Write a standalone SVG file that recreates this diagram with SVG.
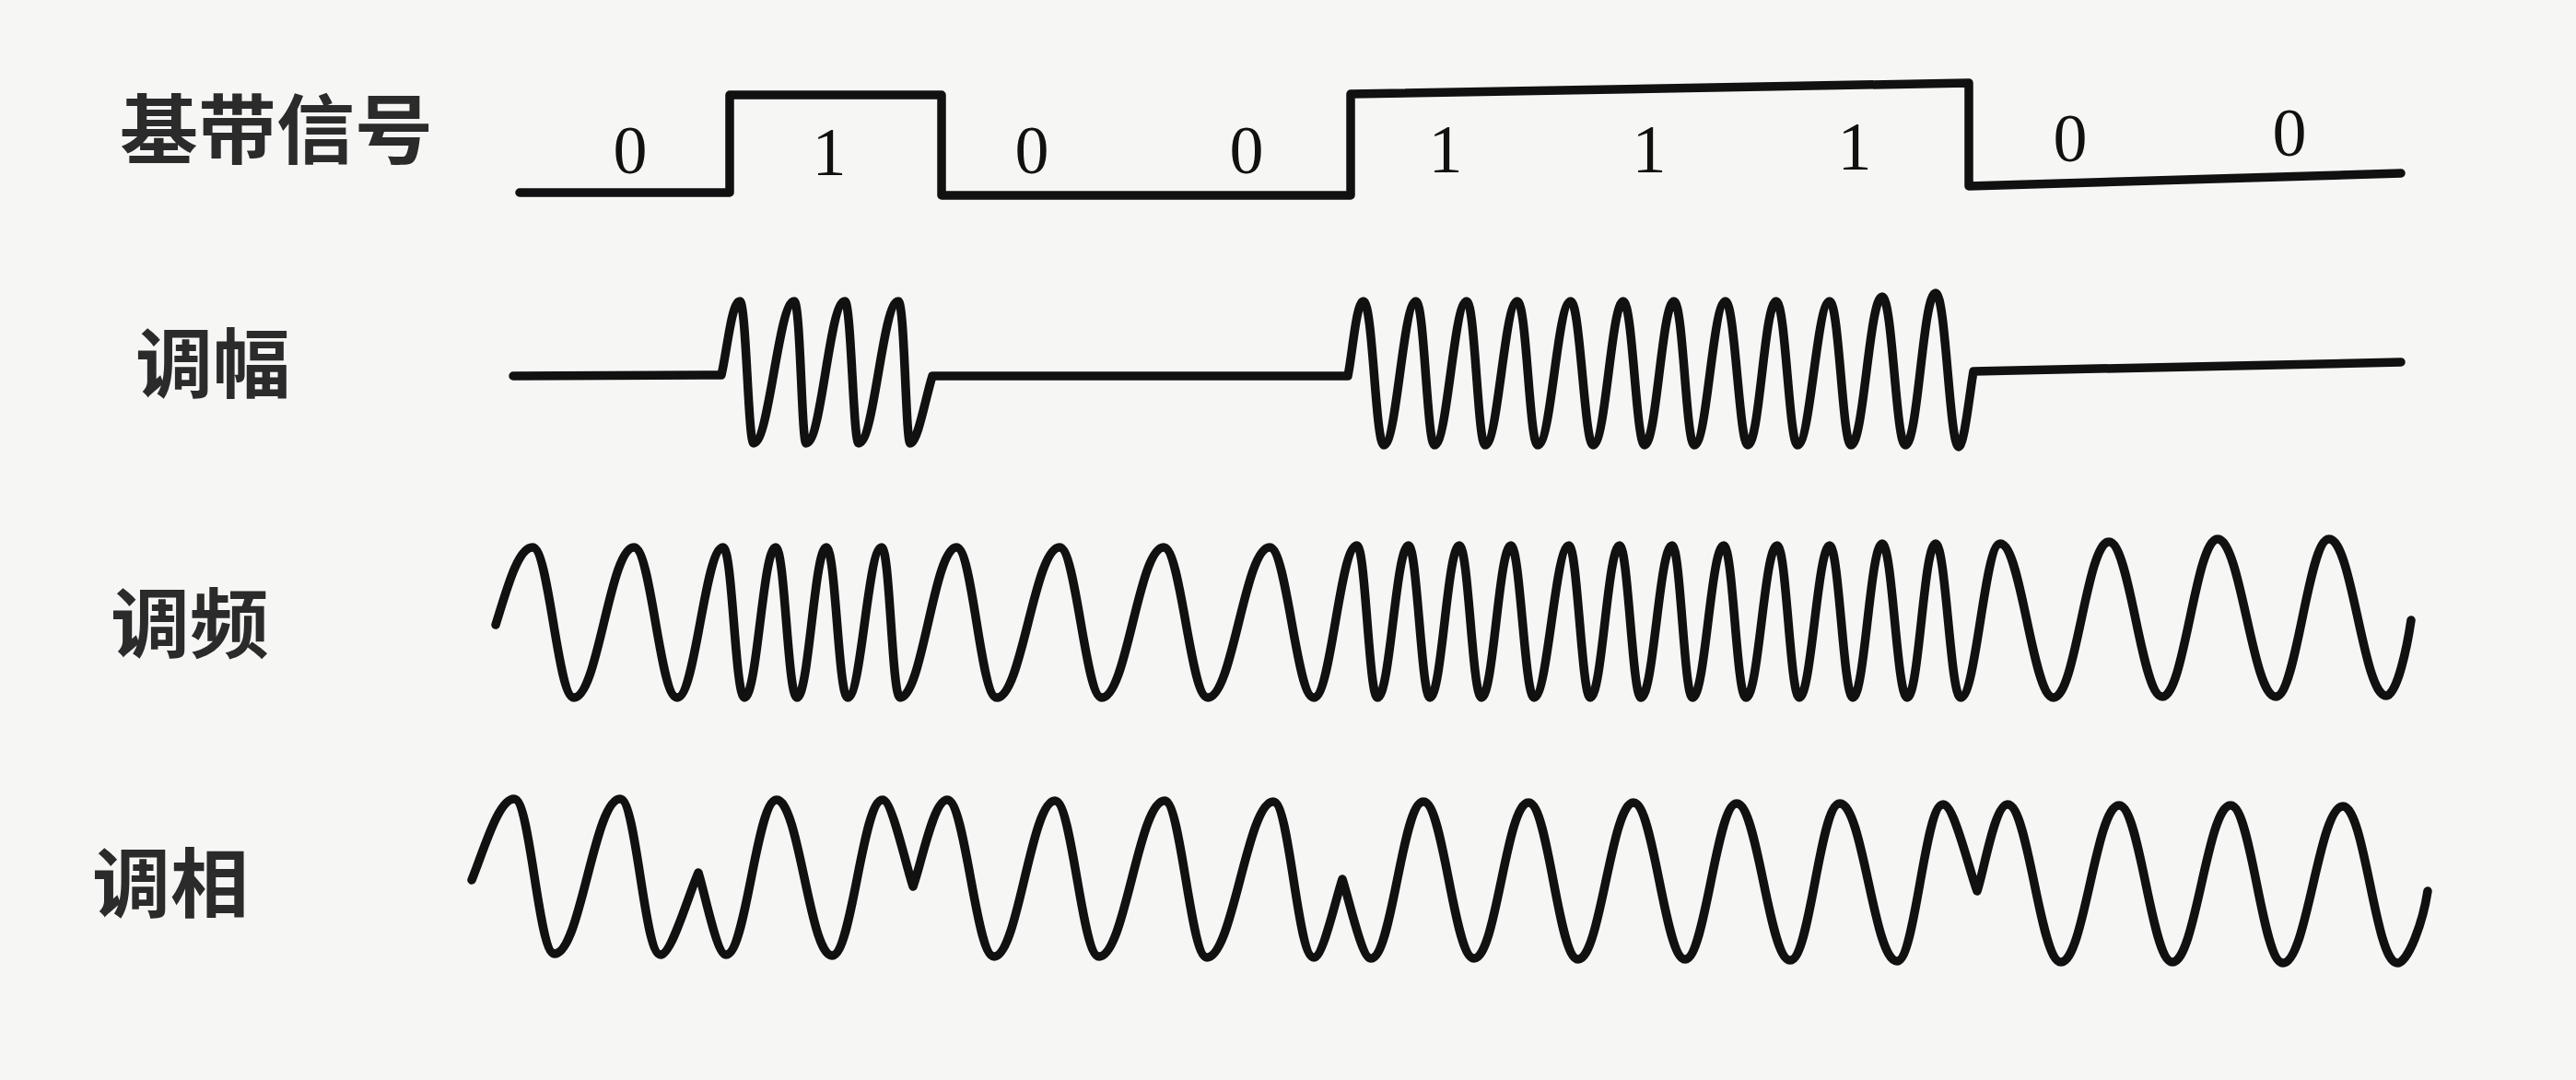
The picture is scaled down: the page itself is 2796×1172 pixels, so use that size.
<svg xmlns="http://www.w3.org/2000/svg" width="2796" height="1172" viewBox="0 0 2796 1172">
<style>
.lbl{font-family:"Noto Sans CJK SC","Noto Sans CJK TC",sans-serif;font-weight:700;font-size:82px;fill:#2b2b2b}
.dig{font-family:"Liberation Serif","DejaVu Serif",serif;font-size:74px;fill:#111;text-anchor:middle}
.w{fill:none;stroke:#111;stroke-width:9.5;stroke-linejoin:round;stroke-linecap:round}
</style>
<rect width="2796" height="1172" fill="#f6f6f4"/>

<g id="row-baseband">
<text class="lbl" x="130" y="171" textLength="340" lengthAdjust="spacingAndGlyphs">基带信号</text>
<path class="w" stroke-linejoin="miter" d="M564 209 L792 209 L792 103 L1022 103 L1022 212 L1466 212 L1466 102 L2137 90 L2137 202 L2606 188"/>
<g id="bits">
<text class="dig" x="684" y="188">0</text>
<text class="dig" x="900" y="190">1</text>
<text class="dig" x="1120" y="188">0</text>
<text class="dig" x="1353" y="188">0</text>
<text class="dig" x="1569" y="187">1</text>
<text class="dig" x="1790" y="187">1</text>
<text class="dig" x="2013" y="184">1</text>
<text class="dig" x="2247" y="175">0</text>
<text class="dig" x="2485" y="169">0</text>
</g>
</g>

<g id="row-am">
<text class="lbl" x="147" y="425" textLength="168" lengthAdjust="spacingAndGlyphs">调幅</text>
<path class="w" d="M557 408 L783 407
C789 382 794 327 803 327
C810 327 812 481 818 481
C835 481 845 327 862 327
C869 327 870 481 875 481
C892 481 900 327 917 327
C924 327 926 481 932 481
C949 481 958 327 975 327
C982 327 983 481 988 481
C996 481 1005 430 1012 408
L1463 408
C1468 384 1472 327 1480 327
C1490 327 1493 483 1502 483
C1516 483 1523 327 1537 327
C1546 327 1549 483 1557 483
C1571 483 1578 327 1592 327
C1601 327 1604 483 1612 483
C1626 483 1633 327 1647 327
C1657 327 1660 483 1669 483
C1684 483 1690 327 1705 327
C1715 327 1720 483 1729 483
C1743 483 1749 327 1762 327
C1772 327 1776 483 1785 483
C1798 483 1804 327 1817 327
C1827 327 1830 483 1839 483
C1853 483 1859 327 1873 327
C1883 327 1888 483 1897 483
C1910 483 1915 327 1928 327
C1938 327 1942 483 1951 483
C1965 483 1972 327 1986 327
C1996 327 2000 483 2009 483
C2023 483 2029 322 2043 322
C2054 322 2058 483 2068 483
C2082 483 2087 318 2101 318
C2112 318 2116 485 2126 485
C2132 485 2139 418 2142 403
L2606 393"/>
</g>

<g id="row-fm">
<text class="lbl" x="120" y="707" textLength="172" lengthAdjust="spacingAndGlyphs">调频</text>
<path class="w" d="M538 678
C550 640 562 594 578 594
C596 594 605 757 623 757
C649 757 662 594 688 594
C707 594 716 757 735 757
C755 757 765 594 785 594
C795 594 798 757 808 757
C822 757 828 594 842 594
C852 594 855 757 865 757
C878 757 884 594 897 594
C907 594 910 757 920 757
C935 757 942 594 957 594
C966 594 968 757 977 757
C1001 757 1014 594 1038 594
C1056 594 1064 757 1082 757
C1109 757 1123 594 1150 594
C1168 594 1178 757 1196 757
C1223 757 1236 594 1263 594
C1282 594 1292 757 1311 757
C1338 757 1351 594 1378 594
C1397 594 1407 757 1426 757
C1445 757 1454 592 1473 592
C1482 592 1486 757 1495 757
C1509 757 1515 592 1529 592
C1538 592 1543 757 1552 757
C1565 757 1571 592 1584 592
C1594 592 1598 757 1608 757
C1621 757 1627 592 1640 592
C1650 592 1655 757 1665 757
C1680 757 1688 592 1703 592
C1712 592 1717 757 1726 757
C1739 757 1745 592 1758 592
C1767 592 1772 757 1781 757
C1795 757 1801 592 1815 592
C1824 592 1828 757 1837 757
C1851 757 1857 592 1871 592
C1881 592 1885 757 1895 757
C1909 757 1915 592 1929 592
C1939 592 1943 757 1953 757
C1966 757 1973 592 1986 592
C1996 592 2001 757 2011 757
C2024 757 2030 590 2043 590
C2054 590 2059 757 2070 757
C2083 757 2088 590 2101 590
C2112 590 2117 757 2128 757
C2145 757 2154 590 2171 590
C2194 590 2206 757 2229 757
C2253 757 2265 588 2289 588
C2312 588 2324 756 2347 756
C2371 756 2383 585 2407 585
C2432 585 2445 756 2470 756
C2493 756 2505 585 2528 585
C2553 585 2565 755 2590 755
C2602 755 2613 700 2617 673"/>
</g>

<g id="row-pm">
<text class="lbl" x="100" y="989" textLength="170" lengthAdjust="spacingAndGlyphs">调相</text>
<path class="w" d="M512 955
C526 920 541 867 558 867
C576 867 584 1035 602 1035
C630 1035 645 867 673 867
C691 867 699 1036 717 1036
C729 1036 748 969 758 947
C765 969 778 1036 788 1036
C810 1036 821 868 843 868
C867 868 879 1037 903 1037
C925 1037 936 868 958 868
C968 868 983 938 991 962
C1000 938 1013 868 1028 868
C1048 868 1059 1038 1079 1038
C1105 1038 1119 869 1145 869
C1164 869 1174 1038 1193 1038
C1221 1038 1236 869 1264 869
C1282 869 1292 1039 1310 1039
C1338 1039 1354 870 1382 870
C1400 870 1408 1039 1426 1039
C1436 1039 1450 975 1457 954
C1464 975 1478 1040 1488 1040
C1511 1040 1522 870 1545 870
C1567 870 1578 1040 1600 1040
C1624 1040 1635 871 1659 871
C1681 871 1691 1041 1713 1041
C1737 1041 1749 871 1773 871
C1795 871 1807 1041 1829 1041
C1851 1041 1863 872 1885 872
C1908 872 1920 1042 1943 1042
C1965 1042 1975 872 1997 872
C2022 872 2034 1043 2059 1043
C2079 1043 2089 873 2109 873
C2121 873 2137 943 2146 967
C2154 943 2165 873 2179 873
C2202 873 2214 1044 2237 1044
C2262 1044 2275 874 2300 874
C2323 874 2335 1044 2358 1044
C2383 1044 2396 874 2421 874
C2444 874 2455 1045 2478 1045
C2504 1045 2517 875 2543 875
C2567 875 2578 1045 2602 1045
C2614 1045 2630 1000 2635 967"/>
</g>
</svg>
